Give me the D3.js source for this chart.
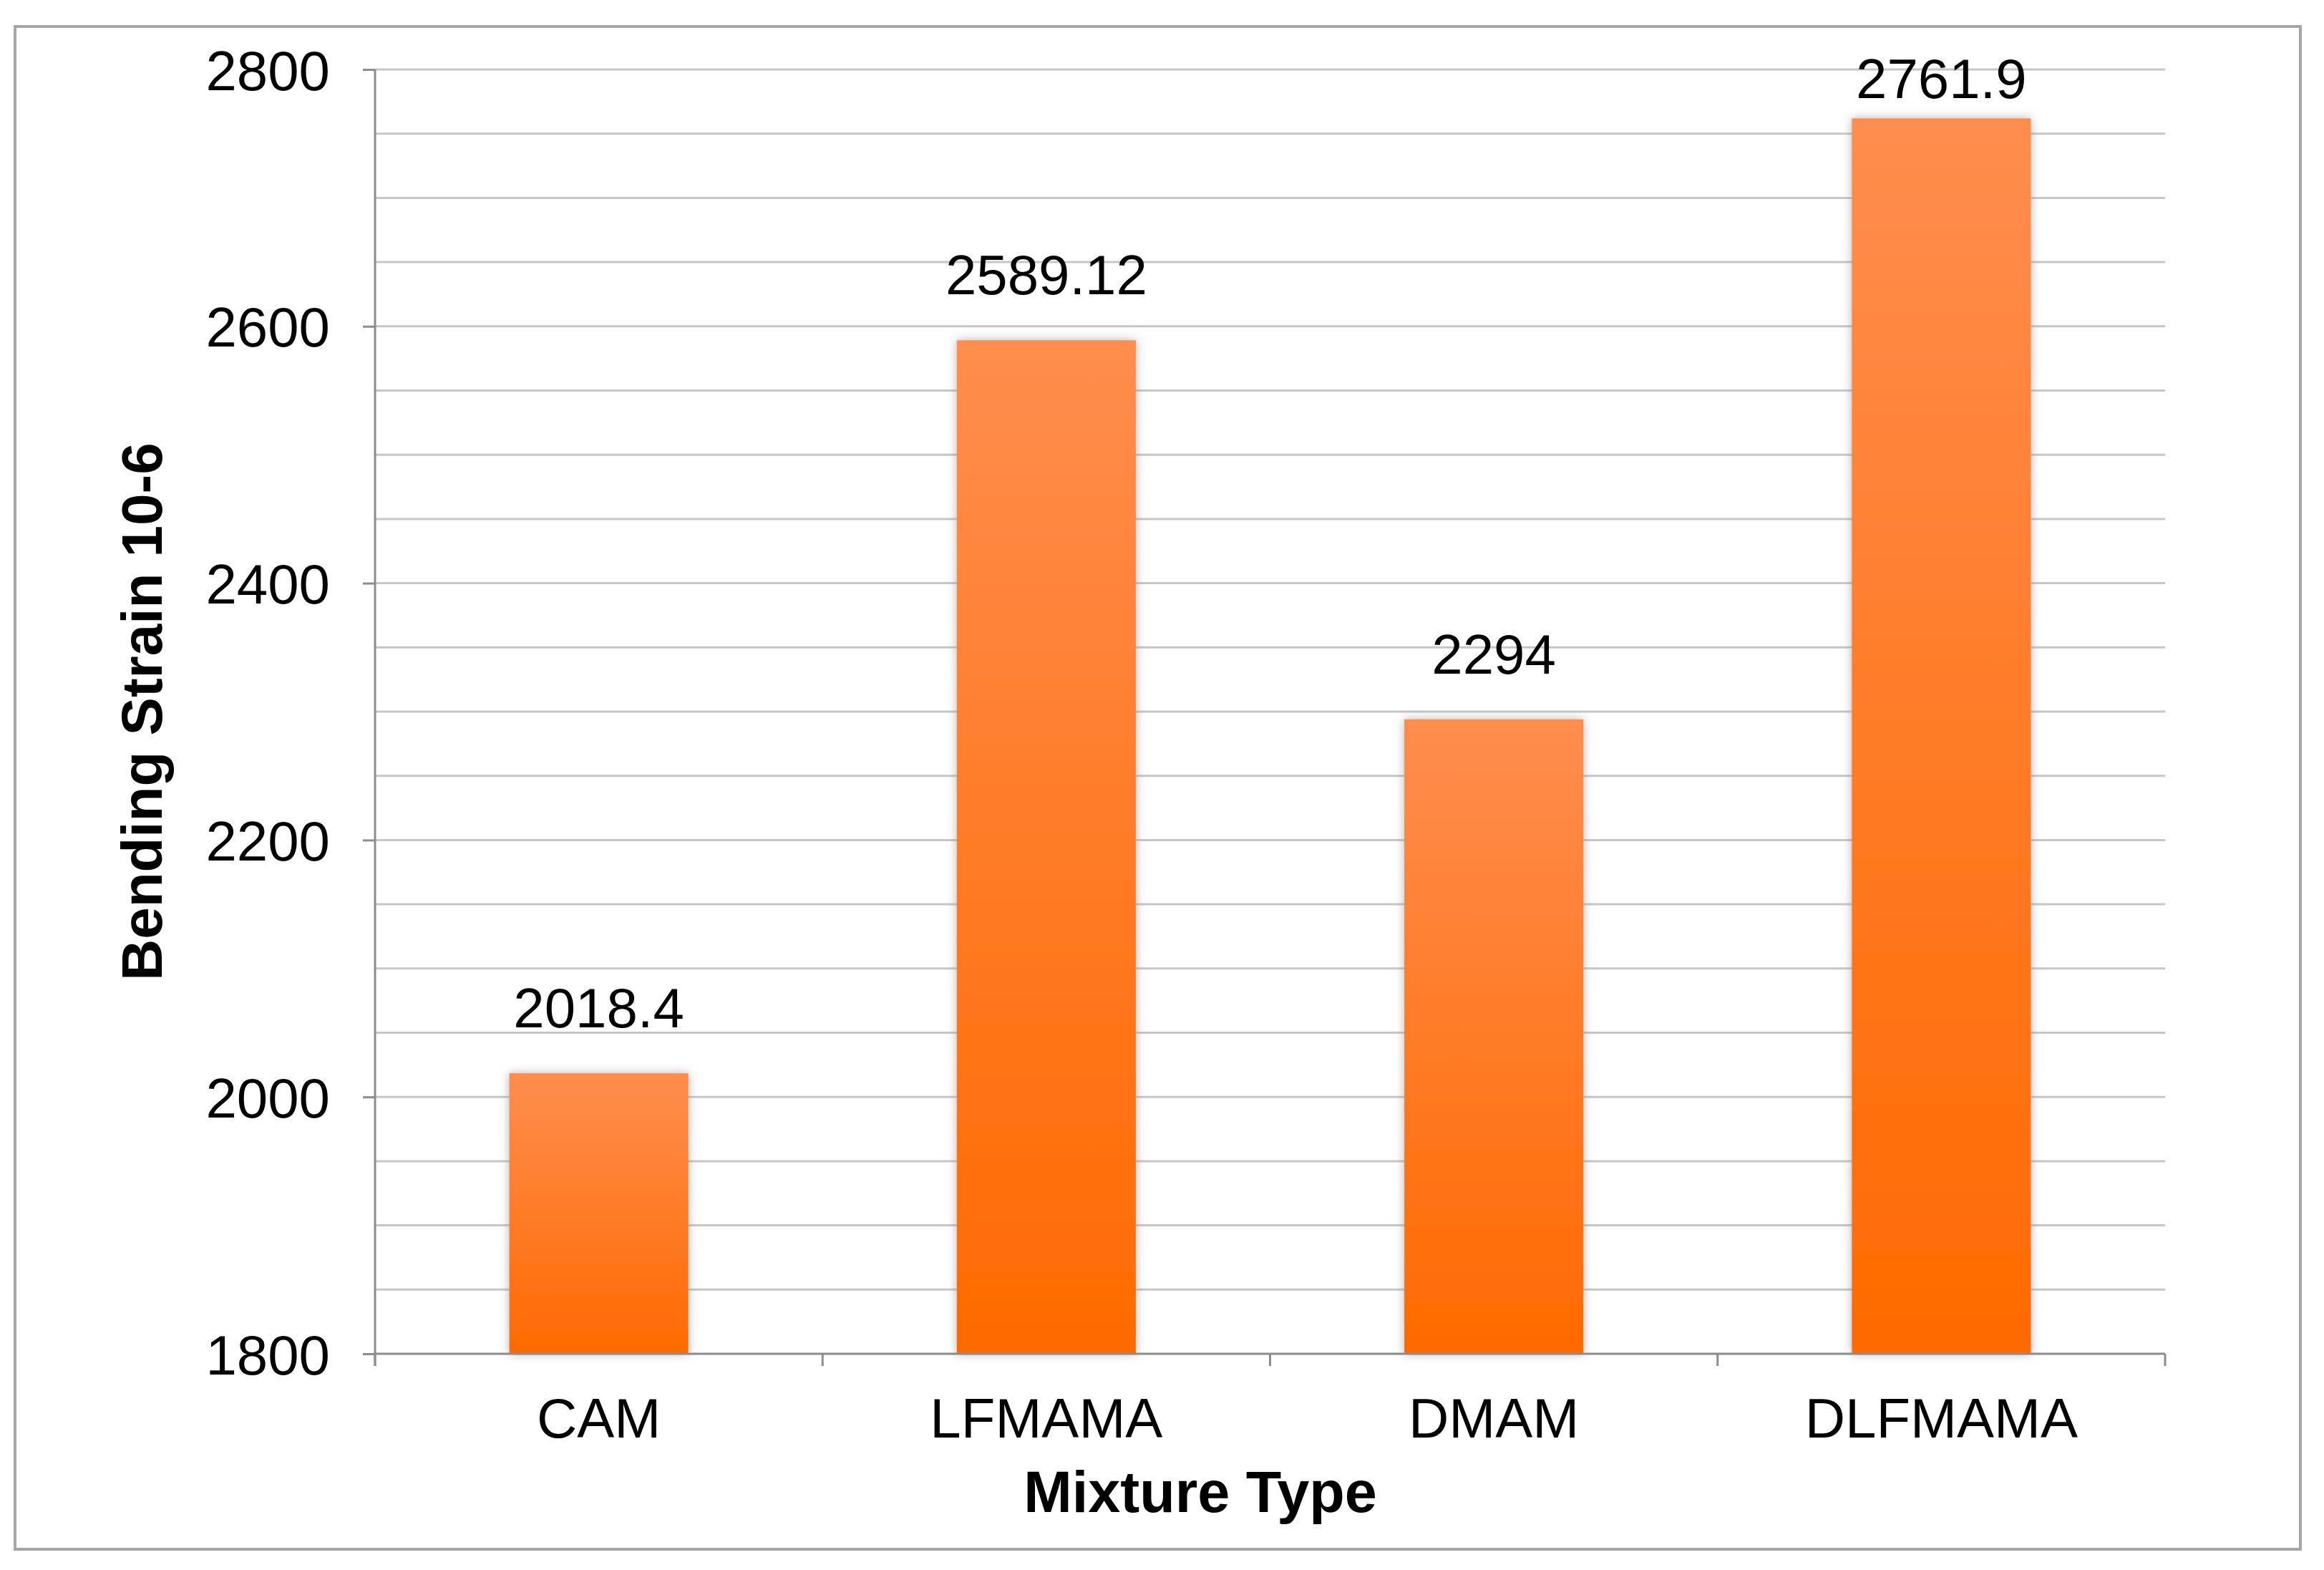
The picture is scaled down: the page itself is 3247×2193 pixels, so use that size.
<!DOCTYPE html>
<html>
<head>
<meta charset="utf-8">
<script src="https://cdn.jsdelivr.net/npm/d3@7"></script>
<style>
  html, body { margin: 0; padding: 0; background: #fff; }
  svg { display: block; }
  text { font-family: "Liberation Sans", Arial, sans-serif; fill: #000; }
</style>
</head>
<body>
<svg id="chart" width="3247" height="2193"></svg>
<script>
const categories = ["CAM", "LFMAMA", "DMAM", "DLFMAMA"];
const values = [2018.4, 2589.12, 2294, 2761.9];
const valueLabels = ["2018.4", "2589.12", "2294", "2761.9"];
const yTicks = [1800, 2000, 2200, 2400, 2600, 2800];
const yGrid = [1850, 1900, 1950, 2000, 2050, 2100, 2150, 2200, 2250, 2300, 2350, 2400, 2450, 2500, 2550, 2600, 2650, 2700, 2750, 2800];
const yTitle = "Bending Strain 10-6";
const xTitle = "Mixture Type";

(function () {
const svg = d3.select("#chart");
const W = 3247, H = 2193;
svg.append("rect").attr("width", W).attr("height", H).attr("fill", "#fff");

// outer frame
svg.append("rect")
  .attr("x", 21).attr("y", 37).attr("width", 3193).attr("height", 2127)
  .attr("fill", "#fff").attr("stroke", "#a6a6a6").attr("stroke-width", 4);

const pLeft = 524, pRight = 3025, pTop = 97, pBottom = 1891;

const x = d3.scaleBand().domain(categories).range([pLeft, pRight]).paddingInner(0.6).paddingOuter(0.3);
const y = d3.scaleLinear().domain([1800, 2800]).range([pBottom, pTop]);

const defs = svg.append("defs");
const grad = defs.append("linearGradient").attr("id", "barGrad")
  .attr("x1", 0).attr("y1", 0).attr("x2", 0).attr("y2", 1);
grad.append("stop").attr("offset", "0%").attr("stop-color", "#ff8d4e");
grad.append("stop").attr("offset", "100%").attr("stop-color", "#ff6a00");

const filt = defs.append("filter").attr("id", "shadow")
  .attr("x", "-20%").attr("y", "-5%").attr("width", "140%").attr("height", "110%");
filt.append("feGaussianBlur").attr("in", "SourceAlpha").attr("stdDeviation", 7).attr("result", "blur");
filt.append("feColorMatrix").attr("in", "blur").attr("type", "matrix")
  .attr("values", "0 0 0 0 0.3  0 0 0 0 0.3  0 0 0 0 0.3  0 0 0 0.7 0").attr("result", "sh");
const merge = filt.append("feMerge");
merge.append("feMergeNode").attr("in", "sh");
merge.append("feMergeNode").attr("in", "SourceGraphic");

// gridlines
svg.append("g").selectAll("line").data(yGrid).join("line")
  .attr("x1", pLeft).attr("x2", pRight)
  .attr("y1", d => y(d)).attr("y2", d => y(d))
  .attr("stroke", "#c6c6c6").attr("stroke-width", 3);

// y axis
const yAxis = svg.append("g").attr("transform", `translate(${pLeft},0)`)
  .call(d3.axisLeft(y).tickValues(yTicks).tickSize(17).tickPadding(46).tickFormat(d3.format("d")));
yAxis.select(".domain").attr("stroke", "#8c8c8c").attr("stroke-width", 3)
  .attr("d", `M0,${pTop}V${pBottom + 17}`);
yAxis.selectAll(".tick line").attr("stroke", "#8c8c8c").attr("stroke-width", 3);
yAxis.selectAll(".tick text").attr("font-size", 78).attr("font-family", "Liberation Sans, Arial, sans-serif").attr("fill", "#000").attr("dy", "0.36em");

// bars
svg.append("g").selectAll("rect").data(values).join("rect")
  .attr("x", (d, i) => x(categories[i]))
  .attr("y", d => y(d))
  .attr("width", x.bandwidth())
  .attr("height", d => y(1800) - y(d))
  .attr("fill", "url(#barGrad)")
  .attr("filter", "url(#shadow)");

// x axis
const bounds = categories.map(c => x(c) - x.step() * 0.3).concat([pRight]);
const xg = svg.append("g");
xg.append("line").attr("x1", pLeft).attr("x2", pRight).attr("y1", pBottom).attr("y2", pBottom)
  .attr("stroke", "#8c8c8c").attr("stroke-width", 3);
xg.selectAll("line.tk").data(bounds).join("line").attr("class", "tk")
  .attr("x1", d => d).attr("x2", d => d).attr("y1", pBottom).attr("y2", pBottom + 17)
  .attr("stroke", "#8c8c8c").attr("stroke-width", 3);
xg.selectAll("text").data(categories).join("text")
  .attr("x", d => x(d) + x.bandwidth() / 2)
  .attr("y", 2008)
  .attr("text-anchor", "middle")
  .attr("font-size", 78)
  .text(d => d);

// value labels (kept inside the chart area, as the original does)
svg.append("g").selectAll("text").data(values).join("text")
  .attr("x", (d, i) => x(categories[i]) + x.bandwidth() / 2)
  .attr("y", d => Math.max(y(d) - 64, 137))
  .attr("text-anchor", "middle")
  .attr("font-size", 78)
  .text((d, i) => valueLabels[i]);

// axis titles
svg.append("text")
  .attr("transform", `translate(226,${(pTop + pBottom) / 2}) rotate(-90)`)
  .attr("text-anchor", "middle")
  .attr("font-size", 80).attr("font-weight", "bold")
  .text(yTitle);

svg.append("text")
  .attr("x", 1677).attr("y", 2112)
  .attr("text-anchor", "middle")
  .attr("font-size", 81).attr("font-weight", "bold")
  .text(xTitle);
})();
</script>
</body>
</html>
